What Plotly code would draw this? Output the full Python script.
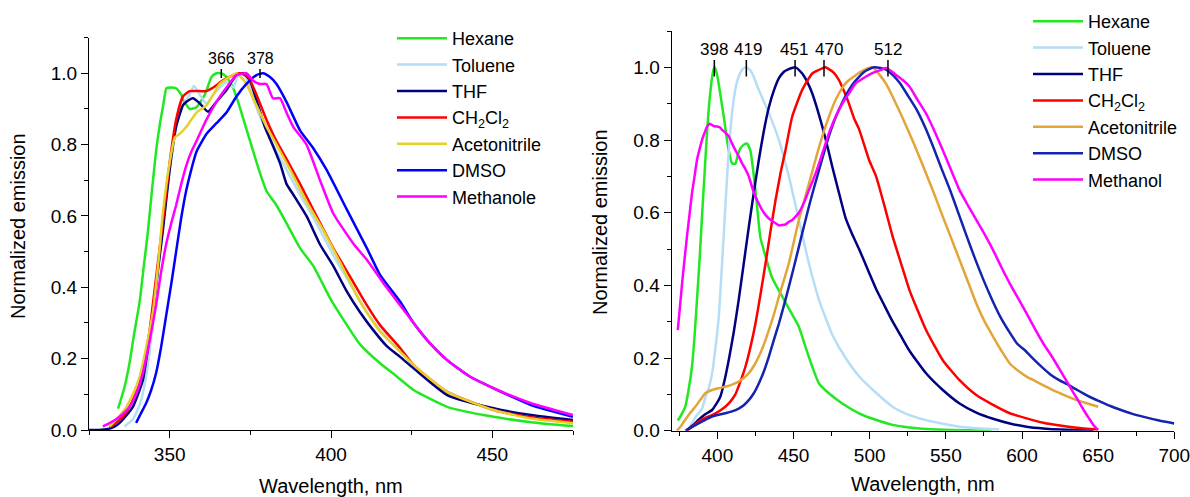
import plotly.graph_objects as go

# ---------------- LEFT PANEL DATA ----------------
hex_L_x = [334, 336, 337.6, 339, 340.7, 342, 343.3, 344.6, 345.9, 347, 348, 349, 350.5, 352, 353.6, 354.2, 356.2, 358.3, 360.9, 363, 364.5, 366, 367.6, 369.7, 371.7, 374.8, 378, 380, 383.1, 386.2, 390.4, 394.5, 399.7, 403.8, 409, 415.2, 420.4, 425.6, 436, 450.4, 462, 475]
hex_L_y = [0.06, 0.12, 0.19, 0.27, 0.36, 0.46, 0.56, 0.68, 0.79, 0.86, 0.91, 0.958, 0.96, 0.958, 0.94, 0.925, 0.90, 0.905, 0.94, 0.99, 1.0, 1.0, 0.99, 0.958, 0.906, 0.813, 0.72, 0.67, 0.63, 0.58, 0.51, 0.46, 0.37, 0.31, 0.24, 0.187, 0.15, 0.112, 0.065, 0.037, 0.022, 0.011]

tol_L_x = [336, 338.6, 340.7, 342.7, 344.8, 346.9, 348.9, 350.5, 352, 354.1, 356.2, 357.5, 359.3, 361.4, 363.5, 365.5, 367.6, 369.7, 371, 372.3, 373.8, 375.8, 378.9, 382, 386.2, 390.4, 395.5, 400.7, 405.9, 411.1, 415.2, 420.4, 425.6, 436, 450.4, 462, 475]
tol_L_y = [0.01, 0.03, 0.07, 0.15, 0.30, 0.50, 0.66, 0.76, 0.85, 0.91, 0.94, 0.965, 0.94, 0.915, 0.94, 0.96, 0.975, 0.96, 0.99, 1.0, 0.985, 0.93, 0.86, 0.80, 0.73, 0.66, 0.58, 0.49, 0.41, 0.33, 0.28, 0.23, 0.18, 0.105, 0.058, 0.035, 0.02]

thf_L_x = [325, 328, 331, 333, 334.5, 336.5, 338.6, 340.2, 341.7, 343.3, 344.8, 346.4, 347.9, 350, 352, 354.1, 355.2, 357.2, 359.3, 361.9, 364.5, 367.6, 370.7, 372.8, 374.8, 376.9, 379.5, 382.1, 384.2, 386.2, 388.3, 392.4, 396.6, 400.7, 404.8, 409, 413.1, 417.3, 421.4, 425.6, 436, 450.4, 462, 475]
thf_L_y = [0.0, 0.0, 0.003, 0.01, 0.02, 0.04, 0.065, 0.1, 0.14, 0.23, 0.33, 0.45, 0.56, 0.73, 0.85, 0.91, 0.92, 0.93, 0.916, 0.892, 0.92, 0.953, 0.995, 1.0, 0.981, 0.925, 0.85, 0.795, 0.748, 0.69, 0.66, 0.60, 0.52, 0.46, 0.39, 0.33, 0.28, 0.235, 0.205, 0.173, 0.098, 0.061, 0.042, 0.028]

dcm_L_x = [331.4, 334, 336.6, 338.6, 340.7, 342.3, 343.8, 345.3, 346.9, 348.5, 350, 352, 354.1, 356.2, 359.3, 361.4, 363.5, 366.5, 369.7, 371.7, 374.3, 376.9, 380, 383.1, 386.2, 390.4, 395.5, 400.7, 405.9, 411.1, 415.2, 421.4, 425.6, 436, 450.4, 462, 475]
dcm_L_y = [0.008, 0.025, 0.05, 0.085, 0.13, 0.2, 0.28, 0.39, 0.51, 0.63, 0.75, 0.87, 0.935, 0.95, 0.95, 0.95, 0.96, 0.98, 0.995, 1.0, 0.99, 0.94, 0.87, 0.81, 0.76, 0.69, 0.60, 0.51, 0.43, 0.35, 0.294, 0.23, 0.182, 0.107, 0.056, 0.036, 0.023]

acn_L_x = [331.4, 334, 336.6, 338.6, 340.7, 342.7, 344.8, 346.4, 347.9, 350, 351.6, 353.1, 355.2, 358.3, 361.4, 363.5, 365.5, 368.6, 370.7, 372, 373.8, 376.9, 380, 383.1, 387.3, 392.4, 397.6, 402.8, 409, 415.2, 421.4, 425.6, 436, 450.4, 462, 475]
acn_L_y = [0.01, 0.035, 0.065, 0.1, 0.15, 0.23, 0.33, 0.46, 0.61, 0.75, 0.82, 0.83, 0.85, 0.89, 0.91, 0.94, 0.97, 0.99, 1.0, 0.99, 0.97, 0.91, 0.85, 0.80, 0.73, 0.64, 0.56, 0.47, 0.36, 0.276, 0.22, 0.182, 0.107, 0.056, 0.032, 0.019]

dmso_L_x = [339.6, 341, 342.7, 344.2, 345.8, 347.3, 348.9, 350.5, 352, 353.5, 355.1, 356.7, 358.3, 361.4, 364.5, 367.6, 370.7, 373.8, 376.9, 378.9, 381, 383.1, 386.2, 390.4, 394.5, 398.6, 404.8, 411.1, 415.2, 421.4, 425.6, 430, 436, 443, 450.4, 462, 475]
dmso_L_y = [0.02, 0.045, 0.075, 0.11, 0.16, 0.23, 0.32, 0.41, 0.50, 0.59, 0.67, 0.73, 0.78, 0.83, 0.86, 0.89, 0.935, 0.97, 0.995, 1.0, 0.99, 0.97, 0.92, 0.84, 0.79, 0.73, 0.62, 0.51, 0.435, 0.36, 0.30, 0.25, 0.196, 0.15, 0.117, 0.07, 0.037]

meoh_L_x = [329.3, 331.5, 333.4, 335.5, 337.6, 339.6, 341.7, 343.8, 345.8, 347.3, 348.9, 350.5, 352, 353.6, 355.1, 356.7, 358.3, 361.4, 364.5, 367.6, 370.7, 373.8, 375.8, 377.9, 380, 382, 384.2, 386.2, 388.3, 392.4, 396.6, 400.7, 406.9, 411.1, 416.3, 421.4, 425.6, 430, 436, 443, 450.4, 462, 475]
meoh_L_y = [0.01, 0.02, 0.03, 0.045, 0.065, 0.1, 0.16, 0.25, 0.35, 0.44, 0.52, 0.58, 0.63, 0.69, 0.74, 0.78, 0.81, 0.87, 0.92, 0.96, 0.995, 1.0, 0.98, 0.97, 0.97, 0.93, 0.93, 0.89, 0.85, 0.80, 0.70, 0.607, 0.523, 0.477, 0.411, 0.35, 0.30, 0.25, 0.196, 0.15, 0.117, 0.075, 0.042]

# ---------------- RIGHT PANEL DATA ----------------
hex_R_x = [374, 376.5, 378.9, 381, 383.3, 385, 386.6, 388.3, 389.9, 391.6, 393.2, 394.6, 396, 397.2, 398.2, 399.5, 400.8, 402.5, 404.2, 405.8, 407.5, 409.6, 411.8, 413.5, 415.1, 417.3, 419.5, 421.7, 423.4, 425, 426.7, 428.3, 431.6, 436, 442.5, 449.1, 453.5, 457.9, 462.3, 466.7, 473.2, 482, 493, 504, 515, 526, 537, 555, 580]
hex_R_y = [0.028, 0.045, 0.066, 0.11, 0.176, 0.26, 0.36, 0.47, 0.59, 0.71, 0.82, 0.90, 0.956, 0.99, 1.0, 0.985, 0.956, 0.91, 0.864, 0.815, 0.77, 0.736, 0.735, 0.76, 0.777, 0.787, 0.79, 0.77, 0.72, 0.66, 0.59, 0.53, 0.48, 0.42, 0.37, 0.32, 0.286, 0.23, 0.176, 0.13, 0.103, 0.075, 0.048, 0.03, 0.016, 0.009, 0.005, 0.002, 0.0]

tol_R_x = [381, 383.3, 386, 389.9, 392, 394.5, 396.5, 398.8, 400.9, 402.5, 404.2, 405.8, 407.5, 409, 410.7, 412.3, 414, 416.5, 418.9, 420.8, 422.8, 427.2, 433.8, 440.4, 446.9, 453.5, 460.1, 466.7, 475.4, 484.2, 493, 504, 515, 526, 537, 548, 559, 570, 585]
tol_R_y = [0.005, 0.02, 0.04, 0.06, 0.09, 0.12, 0.157, 0.23, 0.314, 0.42, 0.54, 0.66, 0.77, 0.85, 0.91, 0.95, 0.975, 0.995, 1.0, 0.995, 0.984, 0.938, 0.874, 0.80, 0.70, 0.58, 0.46, 0.36, 0.265, 0.20, 0.15, 0.105, 0.066, 0.043, 0.029, 0.019, 0.011, 0.007, 0.003]

thf_R_x = [380, 384, 387.7, 392, 396.5, 399.5, 402, 404.8, 407.5, 410.7, 414, 417.3, 420.6, 423.9, 427.2, 430.5, 433.8, 437, 440.4, 443.7, 446.9, 451.3, 455.7, 459, 462.3, 465.6, 468.9, 472.1, 475.4, 479.8, 484.2, 488.6, 493, 499.6, 504.2, 509.6, 515.1, 520.6, 526.1, 537, 548, 559, 570, 581, 592, 603, 614, 625, 647]
thf_R_y = [0.002, 0.015, 0.03, 0.045, 0.057, 0.075, 0.094, 0.14, 0.195, 0.27, 0.36, 0.46, 0.56, 0.655, 0.745, 0.825, 0.89, 0.935, 0.97, 0.988, 0.995, 1.0, 0.983, 0.96, 0.928, 0.885, 0.837, 0.785, 0.727, 0.655, 0.585, 0.54, 0.50, 0.435, 0.39, 0.345, 0.30, 0.26, 0.22, 0.158, 0.112, 0.075, 0.05, 0.033, 0.02, 0.011, 0.006, 0.003, 0.001]

dcm_R_x = [380, 384, 387.7, 392, 396.5, 400.8, 405.2, 408.5, 411.8, 415.1, 418.4, 421.7, 425, 428.3, 431.6, 434.9, 438.2, 441.5, 444.7, 449.1, 455.7, 462.3, 468.9, 471, 473.2, 476.5, 479.8, 483.1, 486.4, 489.7, 493, 499.6, 504.2, 509.6, 515.1, 520.6, 526.1, 531.6, 537, 548, 559, 570, 581, 592, 603, 614, 625, 636, 650]
dcm_R_y = [0.0, 0.012, 0.025, 0.035, 0.043, 0.053, 0.066, 0.08, 0.10, 0.135, 0.176, 0.23, 0.295, 0.375, 0.46, 0.55, 0.635, 0.71, 0.772, 0.864, 0.938, 0.983, 0.997, 1.0, 0.995, 0.985, 0.965, 0.935, 0.90, 0.86, 0.83, 0.745, 0.70, 0.62, 0.534, 0.46, 0.387, 0.33, 0.277, 0.194, 0.139, 0.098, 0.071, 0.048, 0.034, 0.022, 0.014, 0.008, 0.003]

acn_R_x = [373.5, 376, 378.9, 382, 385.5, 388.8, 392.1, 396.5, 400.8, 405.2, 409.6, 414, 417.3, 420.6, 423.9, 427.2, 430.5, 433.8, 437.1, 440.4, 443.7, 446.9, 450.2, 453.5, 456.8, 460.1, 463.4, 466.7, 470, 473.2, 476.5, 479.8, 483.1, 486.4, 489.7, 493, 497.4, 502, 506.4, 510.7, 515.1, 520.6, 526.1, 531.5, 537, 542.5, 548, 553.5, 559, 564.5, 570, 575.5, 581, 586.5, 592, 597.5, 603, 608.5, 614, 619.5, 625, 630.5, 636, 643, 650]
acn_R_y = [0.0, 0.012, 0.03, 0.048, 0.066, 0.085, 0.103, 0.112, 0.117, 0.121, 0.127, 0.135, 0.145, 0.158, 0.178, 0.204, 0.237, 0.277, 0.32, 0.369, 0.415, 0.46, 0.52, 0.58, 0.63, 0.68, 0.73, 0.78, 0.825, 0.864, 0.90, 0.928, 0.95, 0.965, 0.975, 0.985, 0.995, 1.0, 0.98, 0.955, 0.919, 0.87, 0.818, 0.765, 0.708, 0.65, 0.589, 0.53, 0.47, 0.41, 0.35, 0.30, 0.259, 0.22, 0.185, 0.165, 0.149, 0.137, 0.125, 0.113, 0.103, 0.093, 0.084, 0.075, 0.066]

dmso_R_x = [379, 383, 387.7, 392, 396.5, 400.8, 405.2, 409.6, 414, 417.3, 420.6, 423.9, 427.2, 430.5, 433.8, 437.1, 440.4, 443.7, 446.9, 450.2, 453.5, 456.8, 460.1, 463.4, 466.7, 470, 473.2, 476.5, 479.8, 483.1, 486.4, 489.7, 493, 496.3, 499.6, 503, 507, 511, 515.4, 519.9, 525.4, 530.9, 536.4, 541.8, 547.3, 552.8, 558.3, 563.8, 569.2, 574.7, 580.2, 585.7, 591.2, 596.7, 602.2, 607.6, 613.1, 618.6, 624.1, 629.6, 635, 640.5, 646, 651.5, 658, 665, 672, 680, 690, 700]
dmso_R_y = [0.0, 0.01, 0.02, 0.03, 0.039, 0.044, 0.048, 0.053, 0.061, 0.07, 0.084, 0.103, 0.13, 0.163, 0.204, 0.25, 0.295, 0.345, 0.396, 0.45, 0.506, 0.562, 0.617, 0.668, 0.717, 0.765, 0.81, 0.85, 0.883, 0.913, 0.938, 0.958, 0.974, 0.987, 0.995, 1.0, 0.998, 0.993, 0.978, 0.956, 0.92, 0.883, 0.835, 0.78, 0.72, 0.662, 0.598, 0.534, 0.473, 0.415, 0.362, 0.314, 0.275, 0.24, 0.22, 0.197, 0.175, 0.155, 0.14, 0.128, 0.115, 0.102, 0.09, 0.08, 0.068, 0.057, 0.047, 0.038, 0.028, 0.02]

meoh_R_x = [374, 375.4, 376.8, 378.4, 380, 381.7, 383.3, 385, 386.6, 388.3, 389.9, 391.6, 393.2, 394.9, 396.5, 398, 399.8, 401.5, 403.1, 405.3, 407.5, 409.7, 411.8, 414, 416.2, 418.4, 420.6, 422.8, 425, 427.2, 429.4, 431.6, 433.8, 436, 438.2, 440.4, 442.6, 444.8, 447, 449.2, 451.3, 453.5, 455.7, 457.9, 460.1, 462.3, 464.5, 466.7, 468.9, 471, 473.2, 475.4, 477.6, 479.8, 482, 484.2, 486.4, 488.6, 490.8, 494, 497.4, 500.7, 504.2, 507.6, 511, 514, 517.3, 521.7, 526.1, 531.5, 537, 542.5, 548, 553.5, 559, 564.5, 570, 575.5, 581, 586.5, 592, 597.5, 603, 608.5, 614, 619.5, 625, 629.5, 634, 637.3, 640.5, 644, 647, 650]
meoh_R_y = [0.277, 0.34, 0.405, 0.47, 0.534, 0.595, 0.653, 0.70, 0.745, 0.775, 0.80, 0.82, 0.837, 0.845, 0.841, 0.838, 0.837, 0.835, 0.828, 0.82, 0.81, 0.79, 0.772, 0.755, 0.736, 0.72, 0.70, 0.67, 0.644, 0.625, 0.607, 0.594, 0.584, 0.577, 0.571, 0.565, 0.566, 0.568, 0.575, 0.58, 0.589, 0.60, 0.617, 0.638, 0.662, 0.685, 0.708, 0.735, 0.763, 0.79, 0.818, 0.842, 0.864, 0.883, 0.90, 0.915, 0.928, 0.943, 0.956, 0.965, 0.974, 0.982, 0.988, 0.993, 0.998, 0.99, 0.979, 0.965, 0.947, 0.91, 0.873, 0.825, 0.772, 0.717, 0.662, 0.62, 0.58, 0.54, 0.497, 0.45, 0.405, 0.364, 0.323, 0.28, 0.24, 0.205, 0.167, 0.135, 0.103, 0.08, 0.057, 0.034, 0.015, 0.002]

names_L = ["Hexane", "Toluene", "THF", "CH<sub>2</sub>Cl<sub>2</sub>", "Acetonitrile", "DMSO", "Methanole"]
names_R = ["Hexane", "Toluene", "THF", "CH<sub>2</sub>Cl<sub>2</sub>", "Acetonitrile", "DMSO", "Methanol"]
colors_L = ["#22e822", "#b6ddf6", "#000080", "#ff0000", "#e6d02a", "#0000ff", "#ff00ff"]
colors_R = ["#22e822", "#b6ddf6", "#000080", "#ff0000", "#e2a53a", "#1424ae", "#ff00ff"]

peaks_L = [366, 378]
peaks_R = [398, 419, 451, 470, 512]
label_shift_R = [0, 2, -1, 5, 0]

x_title = "Wavelength, nm"
y_title = "Normalized emission"

series_L = [(hex_L_x, hex_L_y), (tol_L_x, tol_L_y), (thf_L_x, thf_L_y), (dcm_L_x, dcm_L_y),
            (acn_L_x, acn_L_y), (dmso_L_x, dmso_L_y), (meoh_L_x, meoh_L_y)]
series_R = [(hex_R_x, hex_R_y), (tol_R_x, tol_R_y), (thf_R_x, thf_R_y), (dcm_R_x, dcm_R_y),
            (acn_R_x, acn_R_y), (dmso_R_x, dmso_R_y), (meoh_R_x, meoh_R_y)]

FONT = "Liberation Sans, Arial, sans-serif"
W, H = 1190, 497

fig = go.Figure()
for (xs, ys), nm, c in zip(series_L, names_L, colors_L):
    fig.add_trace(go.Scatter(x=xs, y=ys, name=nm, mode="lines",
                             line=dict(color=c, width=2.5, shape="spline", smoothing=0.5),
                             xaxis="x", yaxis="y", legend="legend"))
for (xs, ys), nm, c in zip(series_R, names_R, colors_R):
    fig.add_trace(go.Scatter(x=xs, y=ys, name=nm, mode="lines",
                             line=dict(color=c, width=2.5, shape="spline", smoothing=0.5),
                             xaxis="x2", yaxis="y2", legend="legend2"))

def px_x(p):
    return p / W

def px_y(p):
    return 1 - p / H

axis_common = dict(showline=True, linecolor="black", linewidth=1.3, ticks="outside",
                   ticklen=7, tickwidth=1.3, tickcolor="black", showgrid=False,
                   zeroline=False, mirror=False, automargin=False, ticklabeloverflow="allow",
                   tickfont=dict(family=FONT, size=19, color="black"))

fig.update_layout(
    width=W, height=H, paper_bgcolor="white", plot_bgcolor="white",
    margin=dict(l=0, r=0, t=0, b=0, autoexpand=False),
    font=dict(family=FONT, color="black"),
    xaxis=dict(domain=[px_x(89), px_x(573)], range=[325, 475], tick0=350, dtick=50,
               minor=dict(ticks="outside", ticklen=4, dtick=25, tick0=325, tickcolor="black", tickwidth=1.3),
               anchor="y", **axis_common),
    yaxis=dict(domain=[px_y(430), px_y(37.6)], range=[0, 1.1], tick0=0, dtick=0.2, tickformat=".1f",
               minor=dict(ticks="outside", ticklen=4, dtick=0.1, tick0=0, tickcolor="black", tickwidth=1.3),
               anchor="x", **axis_common),
    xaxis2=dict(domain=[px_x(671.7), px_x(1174.3)], range=[370, 700], tick0=400, dtick=50,
                minor=dict(ticks="outside", ticklen=4, dtick=25, tick0=375, tickcolor="black", tickwidth=1.3),
                anchor="y2", **axis_common),
    yaxis2=dict(domain=[px_y(430.7), px_y(31)], range=[0, 1.1], tick0=0, dtick=0.2, tickformat=".1f",
                minor=dict(ticks="outside", ticklen=4, dtick=0.1, tick0=0, tickcolor="black", tickwidth=1.3),
                anchor="x2", **axis_common),
    legend=dict(x=px_x(392), y=px_y(20), xanchor="left", yanchor="top", bgcolor="rgba(0,0,0,0)",
                font=dict(family=FONT, size=18), itemwidth=50),
    legend2=dict(x=px_x(1028), y=px_y(3), xanchor="left", yanchor="top", bgcolor="rgba(0,0,0,0)",
                 font=dict(family=FONT, size=18), itemwidth=50),
    showlegend=True,
)

# axis titles (placed in paper coordinates)
title_font = dict(family=FONT, size=20, color="black")
fig.add_annotation(x=px_x(331), y=px_y(486), xref="paper", yref="paper", text=x_title,
                   showarrow=False, font=title_font, xanchor="center", yanchor="middle")
fig.add_annotation(x=px_x(923), y=px_y(484), xref="paper", yref="paper", text=x_title,
                   showarrow=False, font=title_font, xanchor="center", yanchor="middle")
fig.add_annotation(x=px_x(18), y=px_y(226), xref="paper", yref="paper", text=y_title,
                   showarrow=False, font=title_font, textangle=-90, xanchor="center", yanchor="middle")
fig.add_annotation(x=px_x(600), y=px_y(222), xref="paper", yref="paper", text=y_title,
                   showarrow=False, font=title_font, textangle=-90, xanchor="center", yanchor="middle")

# peak markers
for p in peaks_L:
    fig.add_shape(type="line", xref="x", yref="y", x0=p, x1=p, y0=0.987, y1=1.012,
                  line=dict(color="black", width=1.5))
    fig.add_annotation(x=p, y=1.042, xref="x", yref="y", text=str(p), showarrow=False,
                       font=dict(family=FONT, size=16, color="black"))
for p, s in zip(peaks_R, label_shift_R):
    fig.add_shape(type="line", xref="x2", yref="y2", x0=p, x1=p, y0=0.975, y1=1.02,
                  line=dict(color="black", width=1.5))
    fig.add_annotation(x=p, y=1.05, xref="x2", yref="y2", text=str(p), showarrow=False,
                       xshift=s, font=dict(family=FONT, size=17, color="black"))

fig.write_html("out.html", config={"displayModeBar": False},
               post_script="document.body.style.margin='0';document.body.style.overflow='hidden';")
